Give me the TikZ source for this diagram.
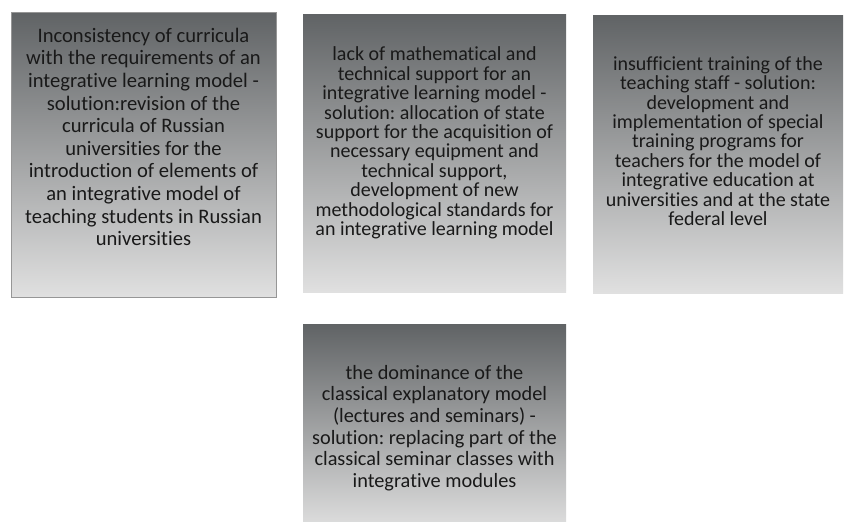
\documentclass[tikz,border=0pt]{standalone}
\usepackage{fontspec}
\setmainfont{Carlito}[Ligatures=NoCommon]
\frenchspacing
\definecolor{topgray}{RGB}{96,99,101}
\definecolor{botgray}{RGB}{224,224,224}
\definecolor{edgegray}{RGB}{150,150,150}
\definecolor{txt}{RGB}{25,25,25}
\tikzset{
  panel/.style={top color=topgray, bottom color=botgray, draw=none},
  panelb/.style={panel, draw=edgegray, line width=1pt},
  lbl/.style={align=center, text=txt, inner sep=0pt}
}
\begin{document}
\begin{tikzpicture}[x=1pt,y=-1pt]
\useasboundingbox (0,0) rectangle (844,522);
\fill[white] (0,0) rectangle (844,522);
\path[panelb] (11,12) rectangle (276,297);
\path[panel] (303,14) rectangle (566,292);
\path[panel] (593,15) rectangle (843,293);
\path[panel] (303,324) rectangle (566,530);
\node[lbl, font=\fontsize{20.6}{22.6}\selectfont] (t1) at (143.5,137)
  {Inconsistency of curricula\\with the requirements of an\\integrative learning model -\\solution:revision of the\\curricula of Russian\\universities for the\\introduction of elements of\\an integrative model of\\teaching students in Russian\\universities};
\node[lbl, font=\fontsize{20}{19.4}\selectfont] (t2) at (434.5,143)
  {lack of mathematical and\\technical support for an\\integrative learning model -\\solution: allocation of state\\support for the acquisition of\\necessary equipment and\\technical support,\\development of new\\methodological standards for\\an integrative learning model};
\node[lbl, font=\fontsize{20}{19.4}\selectfont] (t3) at (718,141)
  {insufficient training of the\\teaching staff - solution:\\development and\\implementation of special\\training programs for\\teachers for the model of\\integrative education at\\universities and at the state\\federal level};
\node[lbl, font=\fontsize{20.3}{21.7}\selectfont] (t4) at (434.5,428)
  {the dominance of the\\classical explanatory model\\(lectures and seminars) -\\solution: replacing part of the\\classical seminar classes with\\integrative modules};
\end{tikzpicture}
\end{document}
